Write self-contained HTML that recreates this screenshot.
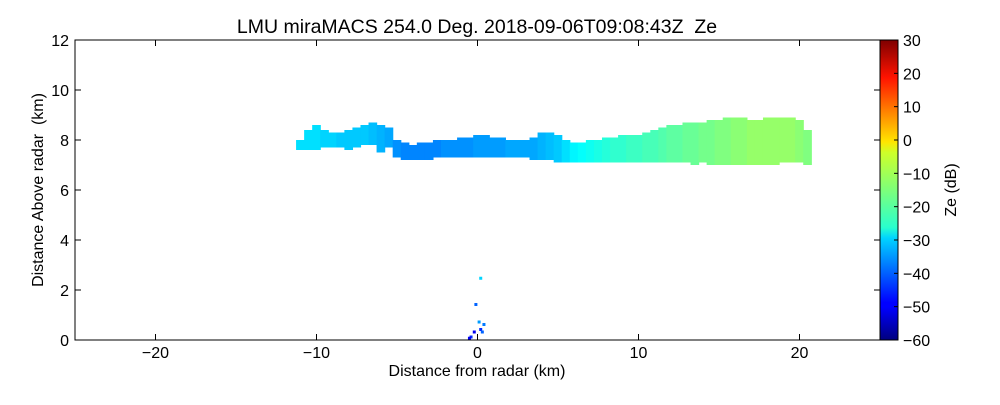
<!DOCTYPE html>
<html><head><meta charset="utf-8"><style>
body{margin:0;background:#fff;}
svg{font-family:"Liberation Sans","DejaVu Sans",sans-serif;}
text{white-space:pre;}
</style></head><body>
<svg id="chart" width="1000" height="400" viewBox="0 0 1000 400">
<defs>
<linearGradient id="jet" x1="0" y1="1" x2="0" y2="0">
<stop offset="0" stop-color="#00007f"/><stop offset="0.11" stop-color="#0000ff"/>
<stop offset="0.125" stop-color="#0000ff"/><stop offset="0.34" stop-color="#00d4ff"/>
<stop offset="0.375" stop-color="#29ffce"/><stop offset="0.5" stop-color="#7dff7a"/>
<stop offset="0.625" stop-color="#ceff29"/><stop offset="0.66" stop-color="#ffe600"/>
<stop offset="0.875" stop-color="#ff1300"/><stop offset="1" stop-color="#7f0000"/>
</linearGradient>
</defs>
<text x="477" y="33" font-size="19.5" text-anchor="middle">LMU miraMACS 254.0 Deg. 2018-09-06T09:08:43Z  Ze</text>
<g id="marks"></g>
<rect x="75" y="40" width="805" height="300" fill="none" stroke="#000" stroke-width="1"/>
<g id="axes"></g>
<rect x="880" y="40" width="18" height="300" fill="url(#jet)" stroke="#000"/>
<g id="cbticks"></g>
<text x="477" y="376" font-size="16" text-anchor="middle">Distance from radar (km)</text>
<text transform="translate(43,190) rotate(-90)" font-size="16" text-anchor="middle">Distance Above radar  (km)</text>
<text transform="translate(956,190) rotate(-90)" font-size="16" text-anchor="middle">Ze (dB)</text>
</svg>
<script>
const xTicks=[-20,-10,0,10,20];
const yTicks=[0,2,4,6,8,10,12];
const cbTicks=[-60,-50,-40,-30,-20,-10,0,10,20,30];
const colX=[-11,-10.5,-10,-9.5,-9,-8.5,-8,-7.5,-7,-6.5,-6,-5.5,-5,-4.5,-4,-3.5,-3,-2.5,-2,-1.5,-1,-0.5,0,0.5,1,1.5,2,2.5,3,3.5,4,4.5,5,5.5,6,6.5,7,7.5,8,8.5,9,9.5,10,10.5,11,11.5,12,12.5,13,13.5,14,14.5,15,15.5,16,16.5,17,17.5,18,18.5,19,19.5,20,20.5];
const colTop=[8.0,8.4,8.6,8.4,8.3,8.3,8.4,8.5,8.6,8.7,8.6,8.5,8.0,7.9,7.8,7.9,7.9,8.0,8.0,8.0,8.1,8.1,8.2,8.2,8.1,8.1,8.0,8.0,8.0,8.1,8.3,8.3,8.2,8.0,7.9,7.9,8.0,8.0,8.1,8.1,8.2,8.2,8.2,8.3,8.4,8.5,8.6,8.6,8.7,8.7,8.7,8.8,8.8,8.9,8.9,8.9,8.8,8.8,8.9,8.9,8.9,8.9,8.8,8.4];
const colBot=[7.6,7.6,7.6,7.7,7.7,7.7,7.6,7.7,7.8,7.8,7.5,7.7,7.3,7.2,7.2,7.2,7.2,7.3,7.3,7.3,7.3,7.3,7.3,7.3,7.3,7.3,7.3,7.3,7.3,7.2,7.2,7.2,7.1,7.1,7.1,7.1,7.1,7.1,7.1,7.1,7.1,7.1,7.1,7.1,7.1,7.1,7.1,7.1,7.1,7.0,7.1,7.0,7.0,7.0,7.0,7.0,7.0,7.0,7.0,7.0,7.1,7.1,7.1,7.0];
const colZe=[-29,-29,-29,-30,-30,-31,-31,-31,-31,-32,-33,-34,-36,-37,-37,-37,-37,-37,-36,-36,-36,-36,-35,-35,-35,-35,-34,-34,-34,-34,-33,-32,-31,-29,-27,-26,-25,-24,-23,-22,-22,-21,-21,-20,-20,-19,-18,-18,-17,-17,-16,-16,-15,-15,-14,-14,-13,-13,-13,-13,-13,-13,-14,-15];
const spkX=[-0.4,-0.2,-0.1,0.1,0.2,0.3,0.4,0.2,-0.5];
const spkY=[0.1,0.3,1.4,0.7,0.4,0.3,0.6,2.45,0.05];
const spkZe=[-45,-50,-40,-35,-45,-40,-38,-30,-50];
const X=v=>75+(v+25)*805/50, Y=v=>340-v*25, CB=v=>340-(v+60)*300/90;
function jet(z){let t=Math.max(0,Math.min(1,(z+60)/90));
 const f=(a)=>Math.max(0,Math.min(1,1.5-Math.abs(4*t-a)));
 return `rgb(${Math.round(f(3)*255)},${Math.round(f(2)*255)},${Math.round(f(1)*255)})`;}
const NS="http://www.w3.org/2000/svg";
const marks=document.getElementById('marks');
function add(p,tag,at){const e=document.createElementNS(NS,tag);for(const k in at)e.setAttribute(k,at[k]);p.appendChild(e);return e;}
const w=805/50*0.5+0.6;
colX.forEach((x,i)=>{
 const r=add(marks,'rect',{x:X(x)-w/2,y:Y(colTop[i]),width:w,height:Y(colBot[i])-Y(colTop[i]),fill:jet(colZe[i])});
 
 
});
spkX.forEach((x,i)=>{
 const r=add(marks,'rect',{x:X(x)-1.5,y:Y(spkY[i])-2,width:3,height:3,fill:jet(spkZe[i])});
 
 
});
const ax=document.getElementById('axes');
xTicks.forEach(t=>{const x=X(t);
 add(ax,'line',{x1:x,y1:340,x2:x,y2:334,stroke:'#000'});
 add(ax,'line',{x1:x,y1:40,x2:x,y2:46,stroke:'#000'});
 const tx=add(ax,'text',{x:x,y:358,'font-size':16,'text-anchor':'middle'});tx.textContent=(t<0?'\u2212'+(-t):t);
 
 
});
yTicks.forEach(t=>{const y=Y(t);
 add(ax,'line',{x1:75,y1:y,x2:81,y2:y,stroke:'#000'});
 add(ax,'line',{x1:880,y1:y,x2:874,y2:y,stroke:'#000'});
 const tx=add(ax,'text',{x:69,y:y+6,'font-size':16,'text-anchor':'end'});tx.textContent=t;
 
 
});
const cb=document.getElementById('cbticks');
cbTicks.forEach(t=>{const y=CB(t);
 add(cb,'line',{x1:898,y1:y,x2:894,y2:y,stroke:'#000'});
 const tx=add(cb,'text',{x:903,y:y+6,'font-size':16});tx.textContent=(t<0?'\u2212'+(-t):t);
 
 
});
</script>
</body></html>
